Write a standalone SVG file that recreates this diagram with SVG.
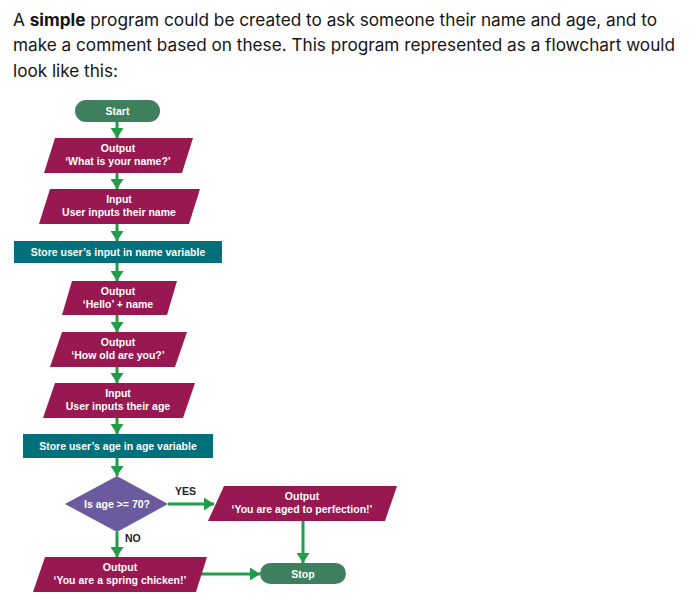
<svg xmlns="http://www.w3.org/2000/svg" width="698" height="615" viewBox="0 0 698 615">
<style>
.intro{font-family:"Inter","Liberation Sans",sans-serif;font-size:17px;fill:#141414}
.t{font-family:"Liberation Sans",Arial,sans-serif;font-weight:bold;font-size:10.5px;fill:#ffffff;text-anchor:middle}
.lbl{font-family:"Liberation Sans",Arial,sans-serif;font-weight:bold;font-size:10.5px;fill:#222222;text-anchor:start}
.io{fill:#981851}
.proc{fill:#00707b}
.term{fill:#3e805d}
.dec{fill:#6c5a9f}
.arr{stroke:#1f9e47;stroke-width:3;fill:none;marker-end:url(#ah)}
</style>
<defs>
<marker id="ah" viewBox="0 0 10 13" markerWidth="10" markerHeight="13" refX="10" refY="6.5" orient="auto" markerUnits="userSpaceOnUse">
<path d="M0,0 L10,6.5 L0,13 z" fill="#1f9e47"/>
</marker>
</defs>
<rect width="698" height="615" fill="#ffffff"/>
<g id="intro">
<text class="intro" x="13" y="26" textLength="644" lengthAdjust="spacingAndGlyphs">A <tspan font-weight="bold">simple</tspan> program could be created to ask someone their name and age, and to</text>
<text class="intro" x="13" y="51" textLength="662" lengthAdjust="spacingAndGlyphs">make a comment based on these. This program represented as a flowchart would</text>
<text class="intro" x="13" y="77" textLength="105" lengthAdjust="spacingAndGlyphs">look like this:</text>
</g>
<g id="connectors">
<line class="arr" x1="117" y1="122" x2="117" y2="138"/>
<line class="arr" x1="117" y1="173" x2="117" y2="189"/>
<line class="arr" x1="117" y1="224" x2="117" y2="241"/>
<line class="arr" x1="117" y1="263" x2="117" y2="281"/>
<line class="arr" x1="117" y1="315" x2="117" y2="332"/>
<line class="arr" x1="117" y1="367" x2="117" y2="383"/>
<line class="arr" x1="117" y1="418" x2="117" y2="434"/>
<line class="arr" x1="117" y1="458" x2="117" y2="476"/>
<line class="arr" x1="117" y1="532" x2="117" y2="557"/>
<line class="arr" x1="168" y1="504" x2="214" y2="504"/>
<line class="arr" x1="303" y1="521" x2="303" y2="563"/>
<line class="arr" x1="200" y1="574" x2="260" y2="574"/>
<text class="lbl" x="175" y="495">YES</text>
<text class="lbl" x="125" y="542">NO</text>
</g>
<g id="start">
<rect class="term" x="75" y="100" width="85" height="22" rx="11"/>
<text class="t" x="117.5" y="115">Start</text>
</g>
<g id="out-name">
<polygon class="io" points="55,138 193,138 182,173 44,173"/>
<text class="t" x="118" y="152">Output</text>
<text class="t" x="118" y="165">‘What is your name?’</text>
</g>
<g id="in-name">
<polygon class="io" points="50,189 200,189 189,224 39,224"/>
<text class="t" x="119" y="203">Input</text>
<text class="t" x="119" y="216">User inputs their name</text>
</g>
<g id="store-name">
<rect class="proc" x="14" y="241" width="208" height="22"/>
<text class="t" x="118" y="256">Store user’s input in name variable</text>
</g>
<g id="out-hello">
<polygon class="io" points="72,281 177,281 167,315 62,315"/>
<text class="t" x="118" y="295">Output</text>
<text class="t" x="118" y="308">‘Hello’ + name</text>
</g>
<g id="out-age">
<polygon class="io" points="62,332 187,332 175,367 50,367"/>
<text class="t" x="118" y="346">Output</text>
<text class="t" x="118" y="359">‘How old are you?’</text>
</g>
<g id="in-age">
<polygon class="io" points="55,383 195,383 183,418 43,418"/>
<text class="t" x="118" y="397">Input</text>
<text class="t" x="118" y="410">User inputs their age</text>
</g>
<g id="store-age">
<rect class="proc" x="23" y="434" width="190" height="24"/>
<text class="t" x="118" y="450">Store user’s age in age variable</text>
</g>
<g id="decision">
<polygon class="dec" points="117,476 168,504 117,532 65,504"/>
<text class="t" x="117" y="507.5">Is age &gt;= 70?</text>
</g>
<g id="out-perfection">
<polygon class="io" points="224,486 397,486 385,521 208,521"/>
<text class="t" x="302" y="500">Output</text>
<text class="t" x="302" y="513">‘You are aged to perfection!’</text>
</g>
<g id="out-chicken">
<polygon class="io" points="45,557 207,557 196,592 33,592"/>
<text class="t" x="120" y="571">Output</text>
<text class="t" x="120" y="584">‘You are a spring chicken!’</text>
</g>
<g id="stop">
<rect class="term" x="260" y="563" width="86" height="21" rx="10.5"/>
<text class="t" x="303" y="577.5">Stop</text>
</g>
</svg>
